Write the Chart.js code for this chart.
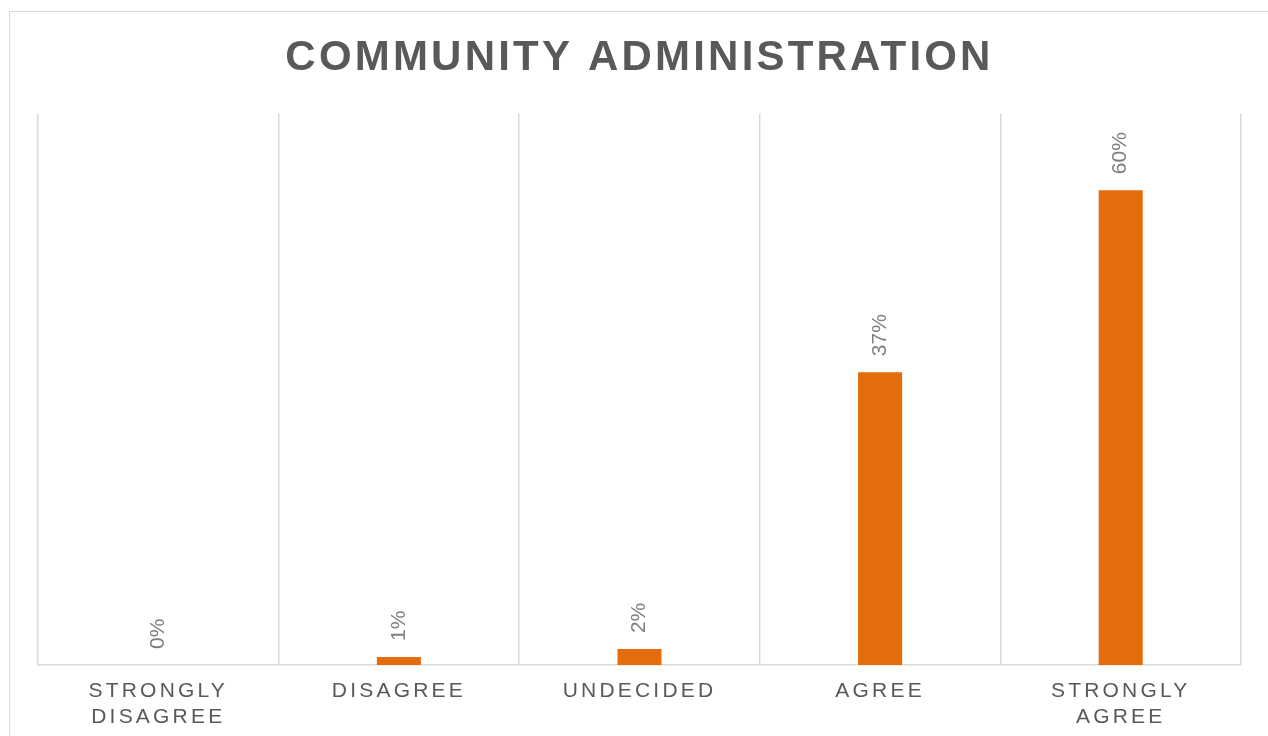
<!DOCTYPE html>
<html>
<head>
<meta charset="utf-8">
<script src="https://cdn.jsdelivr.net/npm/chart.js@4/dist/chart.umd.min.js"></script>
<style>
  html, body { margin: 0; padding: 0; background: #fff; overflow: hidden; }
  #frame { position: absolute; left: 9px; top: 11px; width: 1300px; height: 760px; border: 1px solid #d9d9d9; }
  #wrap { position: absolute; left: 0; top: 0; width: 1268px; height: 736px; }
</style>
</head>
<body>
<div id="frame"></div>
<div id="wrap"><canvas id="myChart"></canvas></div>
<script>
const answers = [['STRONGLY', 'DISAGREE'], 'DISAGREE', 'UNDECIDED', 'AGREE', ['STRONGLY', 'AGREE']];
const shares = [0, 1, 2, 37, 60];
const yMax = 69.7;

const fontFamily = "'Liberation Sans', Arial, sans-serif";

// spaced-out capitals for the title and the axis labels
const spacing = {
    id: 'spacing',
    beforeDraw: (chart) => { chart.ctx.letterSpacing = '3.2px'; }
}

// percentage written sideways above every bar
const valueLabels = {
    id: 'valueLabels',
    afterDatasetsDraw: (chart) => {
        const ctx = chart.ctx;
        const meta = chart.getDatasetMeta(0);
        ctx.save();
        ctx.letterSpacing = '0px';
        ctx.font = '21px ' + fontFamily;
        ctx.fillStyle = '#7f7f7f';
        ctx.textAlign = 'left';
        ctx.textBaseline = 'middle';
        meta.data.forEach((bar, i) => {
            ctx.save();
            ctx.translate(bar.x, bar.y - 16);
            ctx.rotate(-Math.PI / 2);
            ctx.fillText(shares[i] + '%', 0, 0);
            ctx.restore();
        });
        ctx.restore();
    }
}

const data = {
    labels: answers,
    datasets: [{
        data: shares,
        backgroundColor: '#e46c0a',
        categoryPercentage: 1,
        barPercentage: 0.183
    }]
};

const config = {
    type: 'bar',
    data: data,
    options: {
        responsive: true,
        maintainAspectRatio: false,
        animation: false,
        events: [],
        layout: { padding: { left: 38, right: 27, top: 0, bottom: -7 } },
        plugins: {
            legend: { display: false },
            tooltip: { enabled: false },
            title: {
                display: true,
                text: 'COMMUNITY ADMINISTRATION',
                color: '#595959',
                font: { family: fontFamily, size: 42, weight: 'bold', lineHeight: 1.2 },
                padding: { top: 33, bottom: 30 }
            }
        },
        scales: {
            x: {
                grid: { display: true, offset: true, drawTicks: false, color: '#d9d9d9', lineWidth: 1.5 },
                border: { display: true, color: '#d9d9d9', width: 1.5 },
                ticks: {
                    color: '#595959',
                    font: { family: fontFamily, size: 21, lineHeight: 1.24 },
                    padding: 13,
                    maxRotation: 0,
                    autoSkip: false
                }
            },
            y: {
                display: false,
                min: 0,
                max: yMax
            }
        }
    },
    plugins: [spacing, valueLabels]
};

const myChart = new Chart(document.getElementById('myChart'), config);
</script>
</body>
</html>
